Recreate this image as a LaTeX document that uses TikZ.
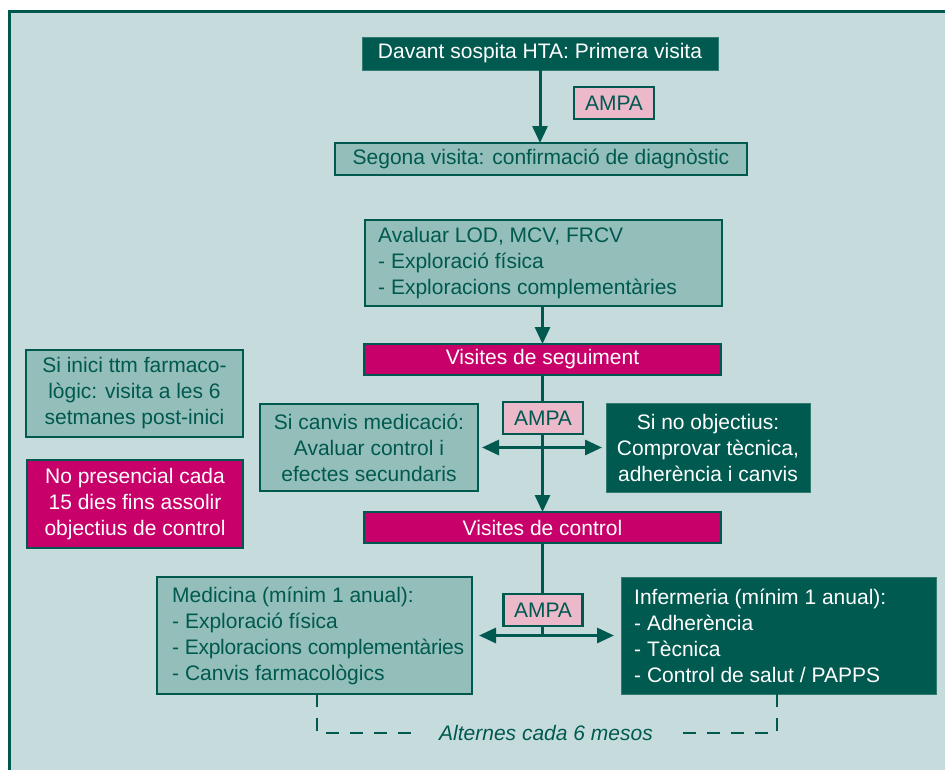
\documentclass[tikz,border=0pt]{standalone}
\usepackage{fontspec}
\setmainfont{Liberation Sans}
\usetikzlibrary{arrows.meta}
\definecolor{bgc}{HTML}{C6DCDC}
\definecolor{lightc}{HTML}{94BEBA}
\definecolor{darkc}{HTML}{005A50}
\definecolor{tealc}{HTML}{00594F}
\definecolor{magc}{HTML}{C8006A}
\definecolor{pinkc}{HTML}{ECB9CB}
\begin{document}
\begin{tikzpicture}[x=1pt,y=-1pt,
  txt/.style={font=\fontsize{21}{26}\selectfont},
  boxbase/.style={txt, inner sep=0pt, outer sep=0pt, align=center},
  lightbox/.style={boxbase, fill=lightc, draw=tealc, line width=2.2pt, text=tealc},
  darkbox/.style={boxbase, fill=darkc, draw=darkc!75!bgc, line width=1pt, text=white},
  magbox/.style={boxbase, fill=magc, draw=tealc, line width=2.2pt, text=white},
  ampabox/.style={boxbase, fill=pinkc, draw=tealc, line width=2.2pt, text=tealc},
  conn/.style={draw=tealc, line width=3pt},
  tipd/.style={-{Triangle[length=17pt,width=15pt]}},
  tipb/.style={{Triangle[length=17pt,width=15pt]}-{Triangle[length=17pt,width=15pt]}},
  dashline/.style={draw=tealc, line width=2.5pt, dash pattern=on 13pt off 11pt}
]
\useasboundingbox (0,0) rectangle (945,769);
\clip (0,0) rectangle (945,769);
\fill[bgc] (9.5,11.2) rectangle (960,790);
\draw[tealc, line width=3pt] (9.5,790) -- (9.5,11.2) -- (960,11.2);

% boxes
\node[darkbox, minimum width=356pt, minimum height=33pt] (b1) at (540,53.5) {Davant sospita HTA: Primera visita};
\node[lightbox, minimum width=412pt, minimum height=32pt] (b2) at (541,159) {Segona visita: confirmació de diagnòstic};
\node[lightbox, minimum width=357pt, minimum height=86pt] (b3) at (543.5,263) {};
\node[txt, anchor=west, align=left, text=tealc, inner sep=0pt] (b3t) at ([xshift=13pt]b3.west) {Avaluar LOD, MCV, FRCV\\- Exploració física\\- Exploracions complementàries};
\node[magbox, minimum width=357pt, minimum height=31pt] (seg) at (542.5,359.5) {Visites de seguiment};
\node[lightbox, minimum width=217pt, minimum height=87pt] (left1) at (134.5,393.5) {Si inici ttm farmaco-\\lògic: visita a les 6\\setmanes post-inici};
\node[lightbox, minimum width=218pt, minimum height=87pt] (canvis) at (369,447.5) {Si canvis medicació:\\Avaluar control i\\efectes secundaris};
\node[darkbox, minimum width=204pt, minimum height=89pt] (noobj) at (708,447.5) {Si no objectius:\\Comprovar tècnica,\\adherència i canvis};
\node[magbox, minimum width=216pt, minimum height=88pt] (left2) at (135,504) {No presencial cada\\15 dies fins assolir\\objectius de control};
\node[magbox, minimum width=357pt, minimum height=31pt] (ctrl) at (542.5,527.5) {Visites de control};
\node[lightbox, minimum width=315pt, minimum height=117pt] (med) at (314.5,635.5) {};
\node[txt, anchor=west, align=left, text=tealc, inner sep=0pt] (medt) at ([xshift=15pt]med.west) {Medicina (mínim 1 anual):\\- Exploració física\\{\addfontfeature{LetterSpace=-1.2}- Exploracions complementàries}\\- Canvis farmacològics};
\node[darkbox, minimum width=315pt, minimum height=117pt] (inf) at (778.5,635.5) {};
\node[txt, anchor=west, align=left, text=white, inner sep=0pt] (inft) at ([xshift=13pt]inf.west) {Infermeria (mínim 1 anual):\\- Adherència\\- Tècnica\\- Control de salut / PAPPS};

% connectors
\draw[conn, tipd] (b1.south) -- (b1.south |- b2.north);
\draw[conn, tipd] (b3.south -| seg.south) -- (seg.north);
\draw[conn, tipd] (seg.south) -- (seg.south |- ctrl.north);
\draw[conn, tipb, shorten <=4pt, shorten >=4pt] (canvis.east) -- (noobj.west);
\draw[conn] (ctrl.south) -- (ctrl.south |- med.east);
\draw[conn, tipb, shorten <=7pt, shorten >=7pt] (med.east) -- (inf.west);

% AMPA labels
\node[ampabox, minimum width=80pt, minimum height=32pt] (a1) at (614,103) {AMPA};
\node[ampabox, minimum width=80pt, minimum height=32pt] (a2) at (543,418) {AMPA};
\node[ampabox, minimum width=79pt, minimum height=32pt] (a3) at (543,610) {AMPA};

% alternation bracket
\node[txt, text=tealc, font=\fontsize{21}{26}\selectfont\itshape, inner sep=0pt] (alt) at (546,733) {Alternes cada 6 mesos};
\coordinate (bl) at (317,733);
\coordinate (br) at (777,733);
\draw[dashline] (bl |- med.south) -- (bl) -- ([xshift=-26pt]alt.west);
\draw[dashline] (br |- inf.south) -- (br) -- ([xshift=26pt]alt.east);
\end{tikzpicture}
\end{document}
